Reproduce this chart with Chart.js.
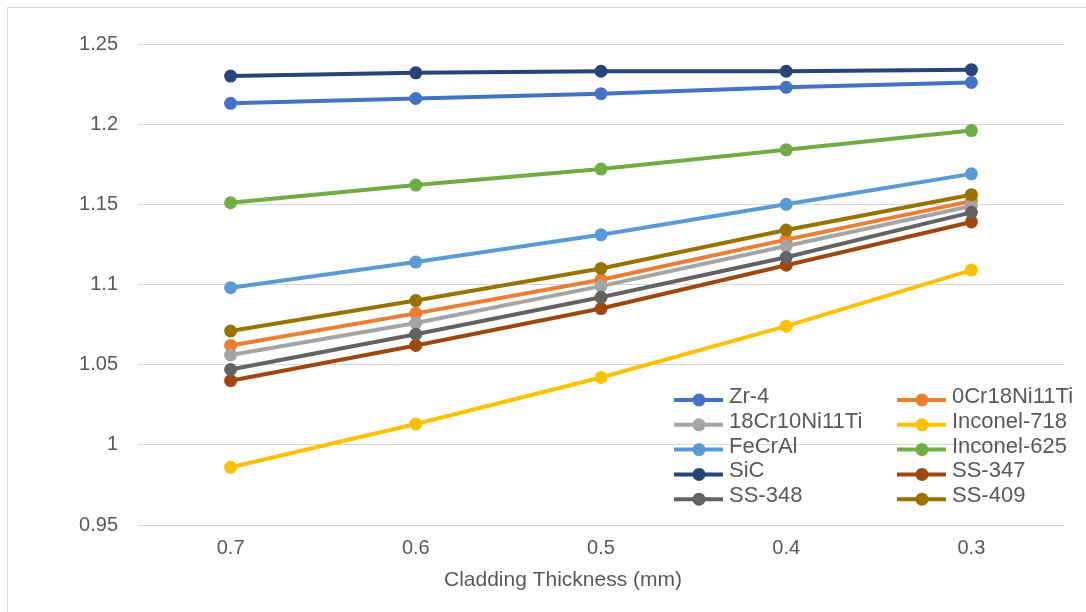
<!DOCTYPE html>
<html>
<head>
<meta charset="utf-8">
<script src="https://cdn.jsdelivr.net/npm/chart.js@4.4.1/dist/chart.umd.min.js"></script>
<style>
    html, body { margin: 0; padding: 0; background: #ffffff; }
    #wrap { width: 1086px; height: 612px; position: relative; overflow: hidden; }
</style>
</head>
<body>
<div id="wrap"><canvas id="PlotCanvas" width="1086" height="612"></canvas></div>
<script>
// cladding thickness categories (mm)
var thickness = ['0.7', '0.6', '0.5', '0.4', '0.3'];
var xTitle = 'Cladding Thickness (mm)';

// y axis tick labels, bottom to top
var yTickLabels = ['0.95', '1', '1.05', '1.1', '1.15', '1.2', '1.25'];

// series values
var zr4        = [1.213, 1.216, 1.219, 1.223, 1.226];
var cr18ni11ti = [1.062, 1.082, 1.103, 1.128, 1.152];
var cr10ni11ti = [1.056, 1.076, 1.099, 1.124, 1.149];
var inconel718 = [0.986, 1.013, 1.042, 1.074, 1.109];
var fecral     = [1.098, 1.114, 1.131, 1.150, 1.169];
var inconel625 = [1.151, 1.162, 1.172, 1.184, 1.196];
var sic        = [1.230, 1.232, 1.233, 1.233, 1.234];
var ss347      = [1.040, 1.062, 1.085, 1.112, 1.139];
var ss348      = [1.047, 1.069, 1.092, 1.117, 1.145];
var ss409      = [1.071, 1.090, 1.110, 1.134, 1.156];

var seriesNames = ['Zr-4', '0Cr18Ni11Ti', '18Cr10Ni11Ti', 'Inconel-718', 'FeCrAl',
                   'Inconel-625', 'SiC', 'SS-347', 'SS-348', 'SS-409'];
var seriesValues = [zr4, cr18ni11ti, cr10ni11ti, inconel718, fecral,
                    inconel625, sic, ss347, ss348, ss409];
var seriesColors = ['#4472C4', '#ED7D31', '#A5A5A5', '#FFC000', '#5B9BD5',
                    '#70AD47', '#264478', '#9E480E', '#636363', '#997300'];

Chart.defaults.font.family = '"Liberation Sans", Arial, sans-serif';
Chart.defaults.color = '#595959';

function makeDataset(name, values, color, index) {
    return {
        label: name,
        data: values,
        borderColor: color,
        backgroundColor: color,
        borderWidth: 4,
        pointRadius: 6.5,
        pointBorderWidth: 0,
        pointBackgroundColor: color,
        tension: 0,
        order: seriesNames.length - index // later series on top, like Excel
    };
}

// white background + thin chart border
var frame = {
    id: 'frame',
    beforeDraw: function (chart) {
        var ctx = chart.ctx;
        ctx.save();
        ctx.fillStyle = '#ffffff';
        ctx.fillRect(0, 0, chart.width, chart.height);
        ctx.strokeStyle = '#d9d9d9';
        ctx.lineWidth = 1;
        ctx.strokeRect(7.5, 7.5, chart.width + 20, chart.height + 20);
        ctx.restore();
    }
};

// axis title, centred a bit left of the plot like the original
var axisTitle = {
    id: 'axisTitle',
    afterDraw: function (chart) {
        var ctx = chart.ctx;
        ctx.save();
        ctx.font = '21px "Liberation Sans", Arial, sans-serif';
        ctx.fillStyle = '#595959';
        ctx.textAlign = 'center';
        ctx.textBaseline = 'middle';
        ctx.fillText(xTitle, 563, 580);
        ctx.restore();
    }
};

// two-column legend inside the plot, lower right
var twoColLegend = {
    id: 'twoColLegend',
    afterDraw: function (chart) {
        var ctx = chart.ctx;
        ctx.save();
        ctx.font = '22px "Liberation Sans", Arial, sans-serif';
        ctx.textBaseline = 'middle';
        ctx.textAlign = 'left';
        chart.data.datasets.forEach(function (ds, i) {
            var col = i % 2;
            var row = Math.floor(i / 2);
            var x = col === 0 ? 674 : 897;
            var y = 400 + row * 24.8;
            ctx.strokeStyle = ds.borderColor;
            ctx.lineWidth = 4;
            ctx.beginPath();
            ctx.moveTo(x, y);
            ctx.lineTo(x + 49, y);
            ctx.stroke();
            ctx.fillStyle = ds.borderColor;
            ctx.beginPath();
            ctx.arc(x + 25, y, 6.5, 0, Math.PI * 2);
            ctx.fill();
            ctx.fillStyle = '#595959';
            ctx.fillText(ds.label, x + 55, y - 3);
        });
        ctx.restore();
    }
};

var ctx = document.getElementById('PlotCanvas').getContext('2d');
var currentChart = new Chart(ctx, {
    type: 'line',
    data: {
        labels: thickness,
        datasets: seriesNames.map(function (name, i) {
            return makeDataset(name, seriesValues[i], seriesColors[i], i);
        })
    },
    options: {
        responsive: false,
        devicePixelRatio: 1,
        animation: false,
        layout: { padding: { top: 44, right: 22, bottom: 0, left: 0 } },
        plugins: {
            legend: { display: false },
            tooltip: { enabled: false }
        },
        scales: {
            x: {
                type: 'category',
                offset: true,
                grid: { display: false, drawTicks: false },
                border: { display: false },
                ticks: { padding: 11, font: { size: 20 }, color: '#595959' },
                afterFit: function (scale) { scale.height = 87; }
            },
            y: {
                type: 'linear',
                min: 0.95,
                max: 1.25,
                grid: { color: '#d9d9d9', lineWidth: 1, drawTicks: false },
                border: { display: false },
                ticks: {
                    stepSize: 0.05,
                    padding: 20,
                    font: { size: 20 },
                    color: '#595959',
                    callback: function (value, index) { return yTickLabels[index]; }
                },
                afterFit: function (scale) { scale.width = 138; }
            }
        }
    },
    plugins: [frame, axisTitle, twoColLegend]
});
</script>
</body>
</html>
